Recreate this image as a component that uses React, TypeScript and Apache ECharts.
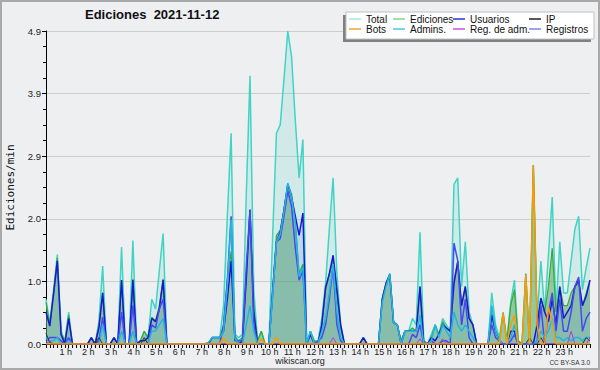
import { useEffect, useRef } from 'react';
import * as echarts from 'echarts';

// 10-minute slots, index 0..144 (24 h)
const HOUR_LABELS = ['', '1 h', '2 h', '3 h', '4 h', '5 h', '6 h', '7 h', '8 h', '9 h', '10 h', '11 h', '12 h',
  '13 h', '14 h', '15 h', '16 h', '17 h', '18 h', '19 h', '20 h', '21 h', '22 h', '23 h', ''];

const TOTAL = [
  0.7, 0.33, 0.85, 1.4, 0.2, 0.05,
  0.5, 0, 0, 0, 0, 0,
  0.1, 0, 0.35, 1.22, 0, 0,
  0.1, 0, 1.52, 0, 0, 1.62,
  0, 0.05, 0.2, 0.1, 0.7, 0.55,
  1.15, 1.73, 0, 0, 0, 0,
  0, 0, 0, 0, 0, 0,
  0, 0.02, 0.1, 0.1, 0.1, 0.6,
  2.0, 3.3, 0.15, 0.1, 0.15, 2.3,
  4.2, 0.85, 0.05, 0.2, 0, 0,
  1.7, 3.3, 3.43, 4.15, 4.9, 4.5,
  3.5, 2.6, 3.2, 0, 0.2, 0.05,
  0.05, 0.4, 0.95, 1.8, 2.6, 1.1,
  0.3, 0, 0, 0, 0, 0,
  0.1, 0, 0, 0, 0, 0.7,
  0.95, 1.1, 0.35, 0.3, 0.05, 0.2,
  0.2, 0.4, 0.3, 1.75, 0.05, 0,
  0.15, 0.3, 0.15, 0.4, 0.3, 0.2,
  2.5, 2.6, 0.9, 1.6, 0.5, 0.3,
  0, 0, 0, 0, 0.8, 0.3,
  0.1, 0.5, 0.05, 0.65, 1.0, 0.05,
  0, 1.1, 0, 2.8, 0.4, 1.3,
  0.5, 1.4, 2.3, 0.5, 1.6, 0.8,
  0.8, 1.3, 1.8, 2.0, 0.85, 1.2,
  1.5,
];

const EDICIONES = [
  0.65, 0.3, 0.8, 1.35, 0.15, 0.05,
  0.45, 0, 0, 0, 0, 0,
  0.1, 0, 0.3, 0.8, 0, 0,
  0.1, 0, 1.0, 0, 0, 1.02,
  0, 0.05, 0.2, 0.1, 0.42, 0.36,
  0.6, 1.02, 0, 0, 0, 0,
  0, 0, 0, 0, 0, 0,
  0, 0.02, 0.1, 0.1, 0.1, 0.3,
  1.0, 1.45, 0.12, 0.05, 0.1, 1.05,
  2.1, 0.55, 0.05, 0.2, 0, 0,
  0.85, 1.7, 1.78, 2.1, 2.5, 2.35,
  1.9, 1.1, 1.25, 0, 0.2, 0.05,
  0, 0.3, 0.85, 1.1, 1.32, 0.8,
  0.25, 0, 0, 0, 0, 0,
  0.1, 0, 0, 0, 0, 0.7,
  0.95, 1.1, 0.35, 0.3, 0.05, 0.2,
  0.2, 0.25, 0.2, 0.9, 0.05, 0,
  0.1, 0.3, 0.15, 0.35, 0.25, 0.2,
  1.0, 1.3, 0.6, 0.9, 0.4, 0.3,
  0, 0, 0, 0, 0.5, 0.2,
  0.05, 0.48, 0.05, 0.6, 0.85, 0.05,
  0, 1.1, 0, 2.8, 0.35, 0.7,
  0.5, 0.9, 1.5, 0.5, 0.9, 0.6,
  0.6, 0.8, 0.9, 0.95, 0.6, 0.8,
  1.0,
];

const USUARIOS = [
  0.5, 0.28, 0.78, 1.3, 0.15, 0,
  0.4, 0, 0, 0, 0, 0,
  0.1, 0, 0.25, 0.8, 0, 0,
  0.1, 0, 1.0, 0, 0, 1.0,
  0, 0.05, 0.05, 0.1, 0.4, 0.35,
  0.55, 1.0, 0, 0, 0, 0,
  0, 0, 0, 0, 0, 0,
  0, 0, 0.1, 0.1, 0.1, 0.2,
  0.7, 1.3, 0.1, 0, 0.05, 1.0,
  2.1, 0.5, 0, 0, 0, 0,
  0.8, 1.6, 1.75, 2.1, 2.5, 2.3,
  2.0, 1.7, 2.05, 0, 0.15, 0,
  0, 0.3, 0.88, 1.1, 1.39, 0.85,
  0.3, 0, 0, 0, 0, 0,
  0.1, 0, 0, 0, 0, 0.7,
  0.95, 1.08, 0.33, 0.3, 0, 0.2,
  0.2, 0.2, 0.2, 0.9, 0, 0,
  0.1, 0.05, 0.15, 0.3, 0.25, 0.2,
  0.95, 1.29, 0.6, 0.9, 0.4, 0.3,
  0, 0, 0, 0, 0.45, 0.2,
  0.05, 0, 0, 0.2, 0.2, 0,
  0, 0, 0, 0, 0.3, 0.72,
  0.5, 0.35, 0.7, 0.3, 0.9, 0.4,
  0.5, 0.6, 0.9, 1.0, 0.6, 0.75,
  1.0,
];

const IP = [
  0.17, 0.02, 0, 0, 0, 0,
  0, 0, 0, 0, 0, 0,
  0, 0, 0.1, 0, 0, 0,
  0, 0, 0, 0, 0, 0,
  0, 0, 0.1, 0, 0, 0,
  0, 0, 0, 0, 0, 0,
  0, 0, 0, 0, 0, 0,
  0, 0, 0, 0, 0, 0,
  0, 0, 0, 0, 0, 0,
  0, 0, 0, 0, 0, 0,
  0, 0, 0, 0, 0, 0,
  0, 0, 0, 0, 0, 0,
  0, 0, 0, 0, 0, 0,
  0, 0, 0, 0, 0, 0,
  0, 0, 0, 0, 0, 0,
  0, 0, 0, 0, 0, 0,
  0, 0, 0, 0, 0, 0,
  0, 0, 0, 0, 0, 0,
  0, 0, 0, 0, 0, 0,
  0, 0, 0, 0, 0, 0,
  0, 0, 0, 0, 0, 0,
  0, 0, 0.1, 0, 0, 0.1,
  0, 0, 0, 0, 0, 0,
  0, 0, 0, 0, 0, 0.1,
  0.05,
];

const BOTS = [
  0, 0, 0, 0, 0, 0,
  0, 0, 0, 0, 0, 0,
  0, 0, 0, 0, 0, 0,
  0, 0, 0, 0, 0, 0,
  0, 0, 0, 0, 0, 0,
  0, 0, 0, 0, 0, 0,
  0, 0, 0, 0, 0, 0,
  0, 0, 0, 0, 0, 0.1,
  0, 0, 0, 0, 0, 0,
  0, 0, 0, 0.08, 0, 0,
  0, 0.1, 0, 0, 0, 0,
  0, 0, 0, 0, 0, 0,
  0, 0, 0, 0, 0, 0,
  0, 0, 0, 0, 0, 0,
  0, 0, 0, 0, 0, 0,
  0, 0, 0, 0, 0, 0,
  0, 0, 0, 0, 0, 0,
  0, 0, 0, 0, 0, 0,
  0, 0, 0, 0, 0, 0,
  0, 0, 0, 0, 0, 0,
  0, 0.48, 0, 0.3, 0.45, 0,
  0, 1.08, 0, 2.8, 0.3, 0,
  0, 0.58, 0.35, 0, 0, 0,
  0, 0, 0, 0, 0, 0,
  0,
];

const ADMINS = [
  0.1, 0.05, 0.05, 0.1, 0, 0,
  0.05, 0, 0, 0, 0, 0,
  0, 0, 0, 0.3, 0, 0,
  0, 0, 0.2, 0, 0, 0.2,
  0, 0, 0, 0, 0.2, 0.2,
  0.3, 0.4, 0, 0, 0, 0,
  0, 0, 0, 0, 0, 0,
  0, 0.02, 0.1, 0.1, 0.1, 0.2,
  0.9, 1.95, 0.1, 0, 0, 0.3,
  0.6, 0.2, 0, 0, 0, 0,
  0.75, 1.6, 1.72, 2.08, 2.52, 2.3,
  1.9, 1.05, 1.2, 0, 0.2, 0,
  0, 0.2, 0.4, 0.8, 1.25, 0.5,
  0.1, 0, 0, 0, 0, 0,
  0, 0, 0, 0, 0, 0.65,
  0.9, 1.1, 0.33, 0.3, 0, 0.2,
  0.2, 0.2, 0.2, 0.45, 0, 0,
  0.05, 0.3, 0.1, 0.3, 0.2, 0.1,
  0.5, 0.3, 0.2, 0.3, 0.2, 0.1,
  0, 0, 0, 0, 0.6, 0.2,
  0.05, 0, 0, 0.1, 0.3, 0,
  0, 0, 0, 0, 0.05, 0.2,
  0.1, 0.2, 0.4, 0.1, 0.1, 0.05,
  0.1, 0.05, 0.1, 0.1, 0.05, 0.1,
  0.1,
];

const REG_ADM = [
  0, 0.05, 0, 0, 0, 0,
  0, 0, 0, 0, 0, 0,
  0, 0, 0, 0, 0, 0,
  0, 0, 0, 0, 0, 0,
  0, 0, 0, 0, 0, 0,
  0, 0, 0, 0, 0, 0,
  0, 0, 0, 0, 0, 0,
  0, 0, 0, 0, 0, 0,
  0, 0, 0, 0, 0, 0,
  0, 0, 0, 0, 0, 0,
  0, 0, 0, 0, 0, 0,
  0, 0, 0, 0, 0, 0,
  0, 0, 0, 0, 0.1, 0,
  0, 0, 0, 0, 0, 0,
  0, 0, 0, 0, 0, 0,
  0, 0, 0, 0, 0, 0,
  0, 0, 0, 0.08, 0, 0,
  0, 0, 0, 0.08, 0, 0,
  0, 0, 0, 0, 0, 0,
  0, 0, 0, 0, 0, 0,
  0, 0, 0, 0, 0, 0,
  0, 0, 0, 0, 0, 0,
  0, 0, 0, 0, 0, 0,
  0, 0.2, 0, 0, 0, 0,
  0.1,
];

const REGISTROS = [
  0.05, 0.1, 0.1, 0.1, 0.05, 0,
  0.1, 0, 0, 0, 0, 0,
  0, 0, 0.05, 0.42, 0, 0,
  0, 0, 0.5, 0, 0, 0.6,
  0, 0, 0, 0, 0.3, 0.25,
  0.55, 0.7, 0, 0, 0, 0,
  0, 0, 0, 0, 0, 0,
  0, 0, 0, 0, 0, 0.3,
  1.0, 2.0, 0.05, 0.05, 0.05, 1.2,
  2.1, 0.3, 0, 0, 0, 0,
  0.85, 1.6, 1.65, 2.0, 2.4, 2.15,
  1.5, 1.0, 1.15, 0, 0, 0,
  0.05, 0.1, 0.3, 0.7, 1.22, 0.3,
  0.05, 0, 0, 0, 0, 0,
  0, 0, 0, 0, 0, 0,
  0, 0, 0, 0, 0, 0,
  0, 0.15, 0.1, 0.3, 0, 0,
  0.05, 0, 0, 0.05, 0.05, 0,
  1.58, 1.3, 0.3, 0.7, 0.1, 0,
  0, 0, 0, 0, 0.3, 0.1,
  0.05, 0, 0, 0.05, 0.15, 0,
  0, 0, 0, 0, 0.05, 0.6,
  0, 0.5, 0.8, 0.2, 0.7, 0.2,
  0.2, 0.5, 0.9, 1.05, 0.2, 0.4,
  0.5,
];

const LEGEND_COLUMNS = [
  { left: 349, items: ['Total', 'Bots'] },
  { left: 393, items: ['Ediciones', 'Admins.'] },
  { left: 453, items: ['Usuarios', 'Reg. de adm.'] },
  { left: 529, items: ['IP', 'Registros'] },
];

const LEGEND_COLORS: Record<string, string> = {
  'Total': '#a6e6de',
  'Ediciones': '#86d486',
  'Usuarios': '#3030d0',
  'IP': '#222222',
  'Bots': '#f7a23c',
  'Admins.': '#4cc6e0',
  'Reg. de adm.': '#cf4fe0',
  'Registros': '#8282f0',
};

const SANS = '"Liberation Sans", Arial, sans-serif';

export default function App() {
  const ref = useRef<HTMLDivElement>(null);

  useEffect(() => {
    const chart = echarts.init(ref.current!, null, { renderer: 'svg' });
    const xy = (arr: number[]) => arr.map((v, i) => [i, v]);
    const line = (name: string, data: number[], color: string, width: number, extra: any = {}) => ({
      type: 'line',
      name,
      data: xy(data),
      showSymbol: false,
      symbol: 'none',
      lineStyle: { color, width },
      itemStyle: { color },
      emphasis: { disabled: true },
      ...extra,
    });

    chart.setOption({
      animation: false,
      backgroundColor: '#eeeff1',
      title: {
        text: 'Ediciones  2021-11-12',
        left: 85,
        top: 8,
        padding: 0,
        textStyle: { fontFamily: SANS, fontWeight: 'bold', fontSize: 13, color: '#111' },
      },
      legend: LEGEND_COLUMNS.map((c) => ({
        orient: 'vertical',
        left: c.left,
        top: 14,
        padding: 0,
        itemGap: 0,
        itemWidth: 12,
        itemHeight: 1.5,
        icon: 'rect',
        selectedMode: false,
        z: 10,
        textStyle: { fontFamily: SANS, fontSize: 10, color: '#111', lineHeight: 10 },
        data: c.items.map((n) => ({ name: n, itemStyle: { color: LEGEND_COLORS[n] } })),
      })),
      grid: { left: 46, right: 10, top: 31, bottom: 26, outerBoundsMode: 'none' },
      xAxis: {
        type: 'value',
        min: 0,
        max: 144,
        interval: 6,
        axisLine: { lineStyle: { color: '#000', width: 1 } },
        axisTick: { length: 4, lineStyle: { color: '#000' } },
        minorTick: { show: true, splitNumber: 6, length: 4, lineStyle: { color: '#000' } },
        splitLine: { show: false },
        axisLabel: {
          formatter: (v: number) => HOUR_LABELS[Math.round(v / 6)] ?? '',
          fontFamily: SANS,
          fontSize: 9,
          color: '#222',
          margin: 3,
          padding: [0, 6, 0, 0],
        },
      },
      yAxis: {
        type: 'value',
        min: 0,
        max: 4.9,
        interval: 0.98,
        name: 'Ediciones/min',
        nameLocation: 'middle',
        nameGap: 30,
        nameTextStyle: { fontFamily: '"DejaVu Sans Mono", monospace', fontSize: 11, color: '#111' },
        axisLine: { show: true, lineStyle: { color: '#000', width: 1 } },
        axisTick: { show: true, length: 4, lineStyle: { color: '#000' } },
        minorTick: { show: true, splitNumber: 4, length: 3, lineStyle: { color: '#000' } },
        splitLine: { lineStyle: { color: '#cdcdcd' } },
        axisLabel: {
          formatter: (v: number) => v.toFixed(1),
          fontFamily: SANS,
          fontSize: 9.5,
          color: '#222',
          margin: 5,
        },
      },
      series: [
        line('Total', TOTAL, '#3fd4c4', 1.5, { areaStyle: { color: 'rgba(64,210,195,0.16)', opacity: 1 } }),
        line('Ediciones', EDICIONES, '#3aa83a', 1.2, { areaStyle: { color: 'rgba(70,160,70,0.45)', opacity: 1 } }),
        line('Usuarios', USUARIOS, '#1818d0', 1.5, { areaStyle: { color: 'rgba(90,140,230,0.18)', opacity: 1 } }),
        line('Registros', REGISTROS, '#4848f2', 1.5),
        line('Admins.', ADMINS, '#22b5e0', 1.5),
        line('IP', IP, '#333333', 1),
        line('Reg. de adm.', REG_ADM, '#b83ae0', 1),
        line('Bots', BOTS, '#ff9900', 1.5),
      ],
      graphic: [
        { type: 'rect', z: 5, shape: { x: 343, y: 15, width: 248, height: 27 }, style: { fill: '#808080' } },
        { type: 'rect', z: 6, shape: { x: 346, y: 12, width: 248, height: 27 }, style: { fill: '#ffffff', stroke: '#c0c0c0', lineWidth: 1 } },
        { type: 'rect', z: 20, shape: { x: 1, y: 1, width: 598, height: 368 }, style: { fill: 'none', stroke: '#a9a9a9', lineWidth: 2 } },
        {
          type: 'text', z: 20, x: 300, y: 361,
          style: { text: 'wikiscan.org', fill: '#222', font: '9px "Liberation Sans", Arial, sans-serif', align: 'center', verticalAlign: 'middle' },
        },
        {
          type: 'text', z: 20, x: 590, y: 362,
          style: { text: 'CC BY-SA 3.0', fill: '#333', font: '6.5px "Liberation Sans", Arial, sans-serif', align: 'right', verticalAlign: 'middle' },
        },
      ],
    });

    return () => chart.dispose();
  }, []);

  return <div ref={ref} style={{ position: 'absolute', left: 0, top: 0, width: 600, height: 370 }} />;
}
